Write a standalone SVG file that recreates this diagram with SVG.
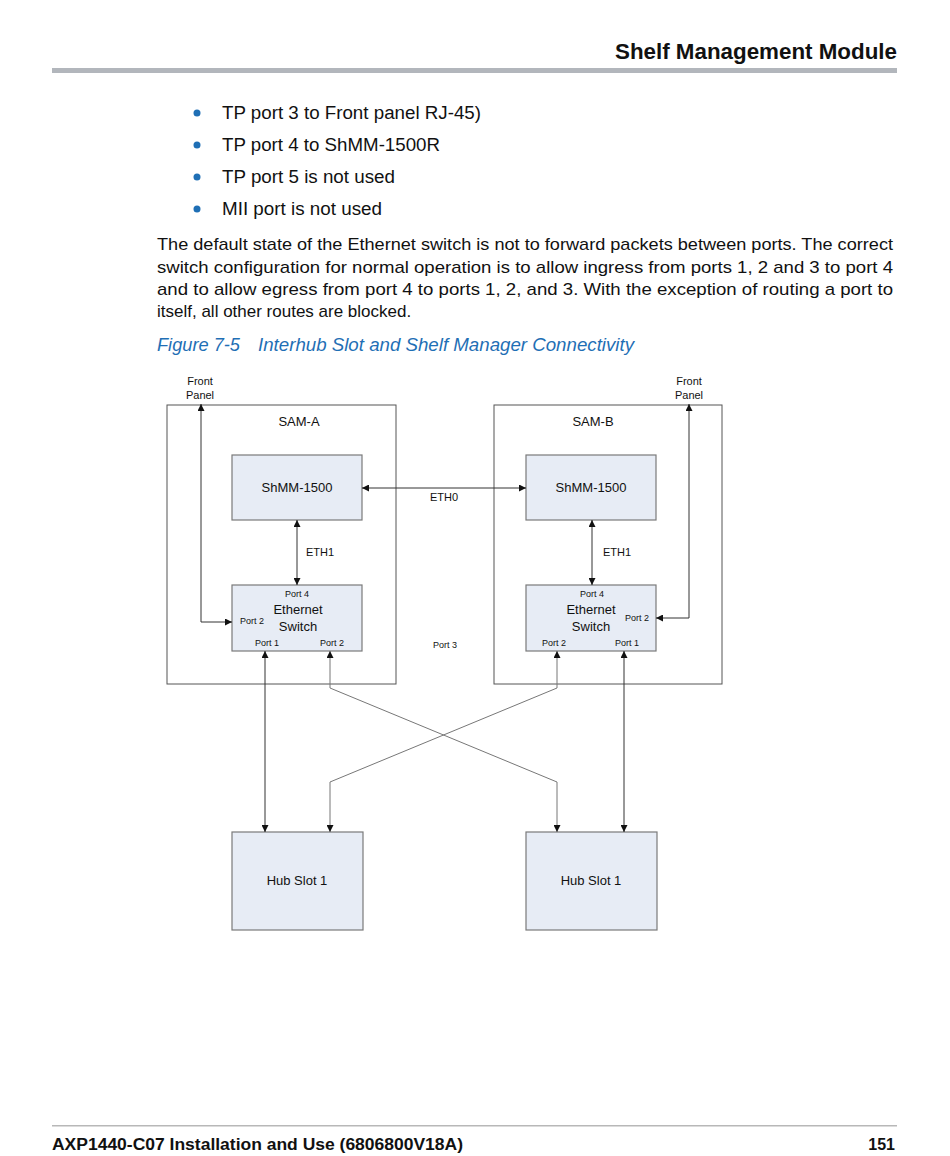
<svg xmlns="http://www.w3.org/2000/svg" width="950" height="1156" viewBox="0 0 950 1156">
<style>
text{font-family:"Liberation Sans",Arial,sans-serif;fill:#111}
.body{font-size:17px}
.bul{font-size:18px}
.box{fill:#e7ecf5;stroke:#7a7a7a;stroke-width:1.2}
.frame{fill:none;stroke:#555;stroke-width:1}
.lbl{font-size:13px;text-anchor:middle}
.sm{font-size:9px;text-anchor:middle}
.fp{font-size:11px;text-anchor:middle}
.ln{fill:none;stroke:#333;stroke-width:1}
.gl{fill:none;stroke:#777;stroke-width:1}
.cap{font-size:18px;font-style:italic;fill:#1f6fb5}
</style>
<defs>
<marker id="ah" viewBox="0 0 10 10" refX="10" refY="5" markerWidth="9" markerHeight="7" markerUnits="userSpaceOnUse" orient="auto-start-reverse">
<path d="M0,0 L10,5 L0,10 z" fill="#111"/>
</marker>
</defs>
<rect width="950" height="1156" fill="#fff"/>
<g id="header">
<text x="897" y="59" font-size="22" font-weight="bold" text-anchor="end" textLength="282" lengthAdjust="spacingAndGlyphs">Shelf Management Module</text>
<rect x="52" y="68" width="845" height="5" fill="#b2b6bc"/>
</g>
<g id="bullets">
<circle cx="197" cy="113" r="3.5" fill="#1f6fb5"/>
<text x="222" y="119" class="bul" textLength="259" lengthAdjust="spacingAndGlyphs">TP port 3 to Front panel RJ-45)</text>
<circle cx="197" cy="145" r="3.5" fill="#1f6fb5"/>
<text x="222" y="151" class="bul" textLength="218" lengthAdjust="spacingAndGlyphs">TP port 4 to ShMM-1500R</text>
<circle cx="197" cy="177" r="3.5" fill="#1f6fb5"/>
<text x="222" y="183" class="bul" textLength="173" lengthAdjust="spacingAndGlyphs">TP port 5 is not used</text>
<circle cx="197" cy="209" r="3.5" fill="#1f6fb5"/>
<text x="222" y="215" class="bul" textLength="160" lengthAdjust="spacingAndGlyphs">MII port is not used</text>
</g>
<g id="paragraph">
<text x="157" y="250" class="body" textLength="736" lengthAdjust="spacingAndGlyphs">The default state of the Ethernet switch is not to forward packets between ports. The correct</text>
<text x="157" y="273" class="body" textLength="736" lengthAdjust="spacingAndGlyphs">switch configuration for normal operation is to allow ingress from ports 1, 2 and 3 to port 4</text>
<text x="157" y="295" class="body" textLength="736" lengthAdjust="spacingAndGlyphs">and to allow egress from port 4 to ports 1, 2, and 3. With the exception of routing a port to</text>
<text x="157" y="317" class="body">itself, all other routes are blocked.</text>
</g>
<g id="caption">
<text x="157" y="351" class="cap" textLength="83" lengthAdjust="spacingAndGlyphs">Figure 7-5</text>
<text x="258" y="351" class="cap" textLength="376" lengthAdjust="spacingAndGlyphs">Interhub Slot and Shelf Manager Connectivity</text>
</g>
<g id="sam-a">
<rect x="167" y="405" width="229" height="279" class="frame"/>
<text x="299" y="426" class="lbl">SAM-A</text>
</g>
<g id="sam-b">
<rect x="494" y="405" width="228" height="279" class="frame"/>
<text x="593" y="426" class="lbl">SAM-B</text>
</g>
<g id="shmm-a">
<rect x="232" y="455" width="130" height="65" class="box"/>
<text x="297" y="492" class="lbl">ShMM-1500</text>
</g>
<g id="shmm-b">
<rect x="526" y="455" width="130" height="65" class="box"/>
<text x="591" y="492" class="lbl">ShMM-1500</text>
</g>
<g id="switch-a">
<rect x="232" y="585" width="130" height="66" class="box"/>
<text x="297" y="597" class="sm">Port 4</text>
<text x="298" y="614" class="lbl">Ethernet</text>
<text x="298" y="631" class="lbl">Switch</text>
<text x="252" y="624" class="sm">Port 2</text>
<text x="267" y="646" class="sm">Port 1</text>
<text x="332" y="646" class="sm">Port 2</text>
</g>
<g id="switch-b">
<rect x="526" y="585" width="130" height="66" class="box"/>
<text x="592" y="597" class="sm">Port 4</text>
<text x="591" y="614" class="lbl">Ethernet</text>
<text x="591" y="631" class="lbl">Switch</text>
<text x="637" y="621" class="sm">Port 2</text>
<text x="554" y="646" class="sm">Port 2</text>
<text x="627" y="646" class="sm">Port 1</text>
</g>
<g id="hub-a">
<rect x="232" y="832" width="131" height="98" class="box"/>
<text x="297" y="885" class="lbl">Hub Slot 1</text>
</g>
<g id="hub-b">
<rect x="526" y="832" width="131" height="98" class="box"/>
<text x="591" y="885" class="lbl">Hub Slot 1</text>
</g>
<g id="front-panel-labels">
<text x="200" y="385" class="fp">Front</text>
<text x="200" y="399" class="fp">Panel</text>
<text x="689" y="385" class="fp">Front</text>
<text x="689" y="399" class="fp">Panel</text>
</g>
<g id="connectors">
<line x1="362" y1="488" x2="526" y2="488" class="ln" marker-start="url(#ah)" marker-end="url(#ah)"/>
<text x="444" y="501" class="fp">ETH0</text>
<line x1="297" y1="520" x2="297" y2="585" class="ln" marker-start="url(#ah)" marker-end="url(#ah)"/>
<text x="306" y="556" class="fp" style="text-anchor:start">ETH1</text>
<line x1="592" y1="520" x2="592" y2="585" class="ln" marker-start="url(#ah)" marker-end="url(#ah)"/>
<text x="603" y="556" class="fp" style="text-anchor:start">ETH1</text>
<polyline points="201,404 201,622 232,622" class="ln" marker-start="url(#ah)" marker-end="url(#ah)"/>
<polyline points="689,404 689,618 656,618" class="ln" marker-start="url(#ah)" marker-end="url(#ah)"/>
<text x="445" y="648" class="sm">Port 3</text>
<line x1="265" y1="651" x2="265" y2="832" class="ln" marker-start="url(#ah)" marker-end="url(#ah)"/>
<line x1="624" y1="651" x2="624" y2="832" class="ln" marker-start="url(#ah)" marker-end="url(#ah)"/>
<polyline points="330,651 330,688 557,782 557,832" class="gl" marker-start="url(#ah)" marker-end="url(#ah)"/>
<polyline points="557,651 557,688 330,782 330,832" class="gl" marker-start="url(#ah)" marker-end="url(#ah)"/>
</g>
<g id="footer">
<rect x="52" y="1125" width="845" height="1.5" fill="#b8b8b8"/>
<text x="52" y="1150" font-size="16" font-weight="bold" textLength="411" lengthAdjust="spacingAndGlyphs">AXP1440-C07 Installation and Use (6806800V18A)</text>
<text x="895" y="1150" font-size="16" font-weight="bold" text-anchor="end">151</text>
</g>
</svg>
